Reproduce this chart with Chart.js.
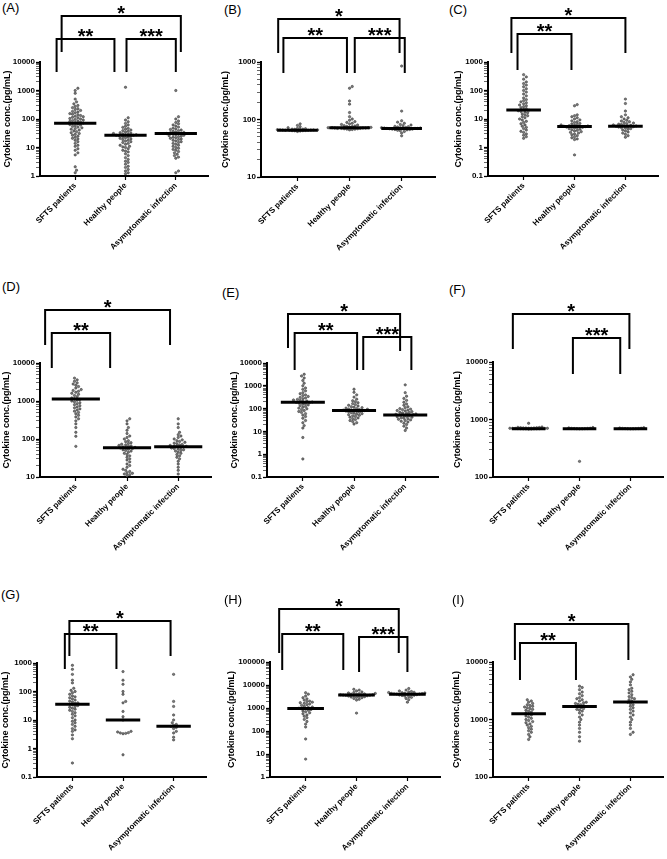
<!DOCTYPE html>
<html>
<head>
<meta charset="utf-8">
<script src="https://cdn.jsdelivr.net/npm/chart.js@4.4.1/dist/chart.umd.min.js"></script>
<style>
  html, body { margin: 0; padding: 0; background: #fff; overflow: hidden; }
  #page { position: relative; width: 667px; height: 859px; }
  canvas { position: absolute; }
  .plabel { position: absolute; font: 13px 'Liberation Sans', Arial, sans-serif; color: #000; line-height: 13px; }
</style>
</head>
<body>
<div id="page"></div>
<script>
/* Cytokine concentrations, 9 panels, three groups each (log scale) */

var groupNames = ["SFTS patients", "Healthy people", "Asymptomatic infection"];
var panelIds = ["A", "B", "C", "D", "E", "F", "G", "H", "I"];
var axisMin = [1, 10, 0.1, 10, 0.1, 100, 0.1, 1, 100];
var axisMax = [10000, 1000, 1000, 10000, 10000, 10000, 1000, 100000, 10000];

// medians (black bars)
var medianA = [71, 27, 31];
var medianB = [65, 72, 70];
var medianC = [20.8, 5.5, 5.6];
var medianD = [1130, 59, 63];
var medianE = [190, 82, 52];
var medianF = [690, 690, 690];
var medianG = [36, 10, 6];
var medianH = [950, 3700, 4000];
var medianI = [1255, 1690, 2010];

// individual values
var aSfts = [1.3, 1.6, 2.1, 5.5, 6.5, 8, 9, 11, 12, 14, 16, 18, 20, 21, 23, 25, 27, 29, 31, 33, 36, 38, 41, 44, 46, 49, 52, 55, 58, 61, 64, 67, 70, 72, 75, 78, 82, 85, 88, 92, 97, 100, 104, 110, 115, 120, 126, 132, 140, 148, 155, 165, 175, 185, 200, 215, 230, 250, 275, 300, 340, 400, 500, 800, 1000, 1200];
var aHealthy = [1.2, 1.3, 1.5, 1.7, 2.0, 2.2, 2.6, 3.0, 3.3, 3.8, 4.4, 5.2, 6, 7, 7.5, 8, 9, 10, 10.5, 11, 12, 13, 14, 15, 16, 17, 18, 19, 20, 21, 22, 23, 24, 25, 26, 27, 27, 28, 28, 29, 30, 31, 32, 33, 35, 37, 39, 41, 44, 47, 51, 56, 62, 70, 80, 92, 110, 1300];
var aAsym = [1.3, 1.5, 4.2, 4.6, 5.2, 5.8, 6.5, 7.2, 8, 8.6, 9.4, 10, 11, 12, 13, 14, 15, 16, 17, 18, 19, 20, 21, 22, 23, 24, 25, 26, 27, 28, 29, 30, 31, 32, 33, 34, 35, 37, 39, 41, 43, 45, 48, 52, 57, 62, 68, 75, 85, 100, 120, 1000];

var bSfts = [62, 63, 63.5, 64, 64, 64.5, 65, 65, 65, 65.5, 65.5, 66, 66, 66, 66.5, 67, 67, 67.5, 68, 68, 69, 70, 72, 75, 79, 84];
var bHealthy = [66, 67, 68, 68, 69, 69, 70, 70, 70, 71, 71, 71, 72, 72, 72, 73, 73, 74, 74, 75, 76, 77, 78, 80, 82, 84, 86, 89, 92, 97, 102, 112, 132, 185, 210, 350, 375];
var bAsym = [52, 58, 62, 64, 65, 66, 67, 67, 68, 68, 69, 69, 70, 70, 70, 71, 71, 72, 72, 73, 74, 75, 76, 78, 80, 82, 86, 90, 95, 140, 850];

var cSfts = [2.1, 2.4, 2.7, 3.0, 3.4, 3.7, 4.1, 4.6, 5.1, 5.6, 6.2, 6.8, 7.5, 8.3, 9.2, 10, 11, 12, 13, 14, 15, 16.5, 17.5, 18.5, 19.5, 20.5, 21.5, 23, 25, 27, 29, 31, 34, 37, 40, 44, 48, 55, 65, 75, 88, 100, 115, 135, 155, 175, 200, 250, 300, 360];
var cHealthy = [0.55, 1.9, 2.0, 2.2, 2.4, 2.6, 2.8, 3.0, 3.2, 3.4, 3.6, 3.8, 4.0, 4.2, 4.4, 4.6, 4.8, 5.0, 5.1, 5.2, 5.3, 5.4, 5.5, 5.6, 5.7, 5.8, 6.0, 6.2, 6.4, 6.7, 7.0, 7.5, 8, 8.6, 9.3, 10, 11, 12, 13, 14, 29, 32];
var cAsym = [2.3, 2.6, 2.9, 3.2, 3.5, 3.8, 4.1, 4.4, 4.6, 4.8, 5.0, 5.2, 5.4, 5.5, 5.6, 5.7, 5.8, 6.0, 6.2, 6.4, 6.6, 6.9, 7.2, 7.5, 8, 8.5, 9, 10, 11, 12, 14, 19, 35, 50];

var dSfts = [64, 118, 150, 200, 250, 300, 340, 380, 420, 460, 500, 540, 580, 620, 660, 700, 750, 800, 850, 900, 950, 1000, 1050, 1100, 1150, 1200, 1300, 1400, 1500, 1600, 1700, 1800, 1900, 2000, 2200, 2400, 2600, 2800, 3000, 3300, 3600, 4000];
var dHealthy = [11, 11.5, 12, 12.5, 13, 14, 15, 16, 18, 20, 22, 25, 28, 30, 33, 36, 39, 42, 45, 48, 50, 52, 54, 56, 58, 59, 60, 62, 64, 66, 68, 70, 73, 76, 80, 85, 90, 100, 110, 120, 140, 170, 200, 250, 300, 340];
var dAsym = [12, 15, 18, 22, 26, 30, 33, 36, 39, 42, 45, 48, 50, 52, 54, 56, 58, 60, 62, 63, 64, 66, 68, 70, 72, 75, 78, 82, 86, 90, 95, 100, 110, 120, 130, 150, 200, 250, 340];

var eSfts = [0.62, 5.4, 14, 18, 24, 30, 38, 45, 52, 60, 68, 75, 82, 90, 98, 105, 115, 125, 135, 145, 155, 165, 175, 185, 190, 195, 205, 215, 225, 240, 255, 270, 290, 310, 340, 370, 400, 450, 500, 600, 700, 800, 1000, 1300, 1700, 2200, 2700, 3200];
var eHealthy = [21, 24, 27, 30, 33, 36, 39, 42, 45, 48, 51, 54, 57, 60, 63, 66, 69, 72, 75, 78, 80, 82, 84, 86, 88, 91, 94, 97, 100, 105, 110, 115, 120, 130, 140, 150, 165, 180, 200, 220, 260, 320, 400, 520, 710];
var eAsym = [11, 14, 17, 20, 23, 26, 28, 30, 32, 34, 36, 38, 40, 42, 44, 46, 48, 50, 52, 54, 56, 58, 61, 64, 67, 70, 74, 78, 82, 86, 90, 95, 100, 110, 120, 140, 160, 190, 230, 280, 350, 500, 1100];

var fSfts = [680, 685, 688, 690, 690, 692, 694, 695, 696, 698, 700, 700, 702, 704, 705, 706, 708, 710, 712, 715, 718, 720, 725, 730, 740, 860];
var fHealthy = [187, 688, 690, 692, 694, 696, 698, 700, 705, 715, 725];
var fAsym = [688, 690, 692, 694, 696, 698, 700, 705, 710, 720];

var gSfts = [0.31, 2.2, 3, 4, 4.5, 5, 6, 7, 8, 9, 10, 12, 14, 16, 18, 20, 22, 24, 26, 28, 30, 32, 34, 36, 38, 40, 43, 46, 50, 55, 60, 65, 70, 80, 90, 100, 110, 130, 200, 250, 400, 600, 830];
var gHealthy = [0.6, 3.3, 3.4, 3.5, 3.6, 3.8, 4, 10, 13, 20, 40, 45, 80, 100, 180, 250, 500];
var gAsym = [2, 2.5, 3.5, 4, 5, 5.5, 6, 6.5, 7, 8, 10, 15, 30, 45, 400];

var hSfts = [6, 45, 150, 200, 260, 320, 380, 440, 500, 560, 620, 680, 740, 800, 860, 920, 950, 980, 1050, 1100, 1200, 1300, 1400, 1500, 1600, 1700, 1800, 1900, 2000, 2200, 2500, 2800, 3300, 4000, 4600];
var hHealthy = [600, 2200, 2400, 2600, 2800, 2900, 3000, 3100, 3200, 3300, 3400, 3500, 3550, 3600, 3650, 3700, 3750, 3800, 3900, 4000, 4100, 4200, 4300, 4500, 4700, 5000, 5500, 6000, 6500];
var hAsym = [1800, 2300, 2600, 2900, 3100, 3300, 3500, 3600, 3700, 3800, 3900, 3950, 4000, 4050, 4100, 4200, 4300, 4400, 4500, 4600, 4700, 4800, 5000, 5200, 5500, 6000, 7000];

var iSfts = [450, 500, 550, 600, 640, 680, 720, 760, 800, 840, 880, 920, 960, 1000, 1050, 1100, 1150, 1200, 1250, 1300, 1350, 1400, 1450, 1500, 1550, 1600, 1650, 1700, 1750, 1800, 1900, 2000, 2100, 2200];
var iHealthy = [420, 500, 600, 700, 800, 900, 1000, 1100, 1200, 1300, 1400, 1450, 1500, 1550, 1600, 1650, 1700, 1750, 1800, 1850, 1900, 1950, 2000, 2100, 2200, 2300, 2400, 2600, 2800, 3000, 3300, 3600, 3800];
var iAsym = [550, 600, 700, 800, 900, 1000, 1100, 1200, 1300, 1400, 1500, 1600, 1700, 1800, 1900, 2000, 2100, 2200, 2300, 2400, 2500, 2700, 2900, 3100, 3300, 3500, 4000, 4500, 5000, 5500, 6000];

var panelValues = [
  [aSfts, aHealthy, aAsym], [bSfts, bHealthy, bAsym], [cSfts, cHealthy, cAsym],
  [dSfts, dHealthy, dAsym], [eSfts, eHealthy, eAsym], [fSfts, fHealthy, fAsym],
  [gSfts, gHealthy, gAsym], [hSfts, hHealthy, hAsym], [iSfts, iHealthy, iAsym]
];
var panelMedians = [medianA, medianB, medianC, medianD, medianE, medianF, medianG, medianH, medianI];

// significance brackets: from/to in group units, top/legs in px relative to plot top
var panelBrackets = [
  [{ from: -0.27, to: 2.1, top: -46, leg1: -10, leg2: -10, label: "*" },
   { from: -0.37, to: 0.78, top: -23, leg1: 10, leg2: 10, label: "**" },
   { from: 1.02, to: 2.0, top: -23, leg1: 10, leg2: 10, label: "***" }],
  [{ from: -0.37, to: 1.96, top: -43, leg1: -9, leg2: -9, label: "*" },
   { from: -0.27, to: 0.95, top: -24, leg1: 11, leg2: 11, label: "**" },
   { from: 1.1, to: 2.06, top: -24, leg1: 11, leg2: 11, label: "***" }],
  [{ from: -0.24, to: 2.0, top: -44, leg1: -9, leg2: -9, label: "*" },
   { from: -0.12, to: 0.94, top: -28, leg1: 8, leg2: 8, label: "**" }],
  [{ from: -0.6, to: 1.84, top: -53, leg1: -18, leg2: -18, label: "*" },
   { from: -0.47, to: 0.67, top: -30, leg1: 5, leg2: 5, label: "**" }],
  [{ from: -0.29, to: 1.9, top: -49, leg1: -15, leg2: -12, label: "*" },
   { from: -0.16, to: 1.06, top: -30, leg1: 7, leg2: 7, label: "**" },
   { from: 1.18, to: 2.12, top: -26, leg1: 7, leg2: 7, label: "***" }],
  [{ from: -0.31, to: 1.98, top: -48, leg1: -13, leg2: -13, label: "*" },
   { from: 0.87, to: 1.8, top: -24, leg1: 12, leg2: 12, label: "***" }],
  [{ from: -0.06, to: 1.94, top: -42, leg1: -7, leg2: -7, label: "*" },
   { from: -0.15, to: 0.87, top: -29, leg1: 6, leg2: 6, label: "**" }],
  [{ from: -0.52, to: 1.83, top: -53, leg1: -9, leg2: -9, label: "*" },
   { from: -0.46, to: 0.74, top: -28, leg1: 8, leg2: 8, label: "**" },
   { from: 1.05, to: 2.0, top: -25, leg1: 10, leg2: 10, label: "***" }],
  [{ from: -0.27, to: 1.96, top: -38, leg1: -2, leg2: -2, label: "*" },
   { from: -0.17, to: 0.93, top: -19, leg1: 18, leg2: 18, label: "**" }]
];

// page layout of each panel (px)
var panelLayout = [
  { rowTop: 0,   titleX: 7,   axisX: 40,  top: 62,  bottom: 176, right: 210, medW: 0.42, lx: 2,   ly: 1 },
  { rowTop: 0,   titleX: 225, axisX: 261, top: 62,  bottom: 177, right: 437, medW: 0.39, lx: 224, ly: 3 },
  { rowTop: 0,   titleX: 458, axisX: 488, top: 62,  bottom: 176, right: 660, medW: 0.34, lx: 449, ly: 3 },
  { rowTop: 280, titleX: 6,   axisX: 40,  top: 363, bottom: 477, right: 213, medW: 0.47, lx: 2,   ly: 280 },
  { rowTop: 280, titleX: 234, axisX: 267, top: 363, bottom: 477, right: 440, medW: 0.43, lx: 222, ly: 286 },
  { rowTop: 280, titleX: 457, axisX: 493, top: 362, bottom: 477, right: 665, medW: 0.33, lx: 449, ly: 283 },
  { rowTop: 570, titleX: 5,   axisX: 37,  top: 663, bottom: 777, right: 208, medW: 0.34, lx: 1,   ly: 588 },
  { rowTop: 570, titleX: 231, axisX: 270, top: 662, bottom: 777, right: 442, medW: 0.36, lx: 224, ly: 593 },
  { rowTop: 570, titleX: 456, axisX: 493, top: 662, bottom: 777, right: 665, medW: 0.34, lx: 452, ly: 593 }
];

var X_MIN = -0.7, X_MAX = 2.65;
var FONT = "'Liberation Sans', Arial, sans-serif";
Chart.defaults.font.family = FONT;
Chart.defaults.color = "#000";

// simple beeswarm: horizontal offsets (group units); spread is capped at maxHalf px
function swarmOffsets(values, lo, hi, plotH, pxPerUnit, maxHalf) {
  var d = 2.7;
  var step = d * 0.5;
  var span = Math.log10(hi) - Math.log10(lo);
  var pts = values.map(function (v, k) {
    return { k: k, py: (Math.log10(v) - Math.log10(lo)) / span * plotH, px: 0 };
  });
  var order = pts.slice().sort(function (a, b) { return a.py - b.py; });
  var placed = [];
  order.forEach(function (p) {
    var best = 0, bestHits = Infinity;
    for (var j = 0; j < 400; j++) {
      var off = (j % 2 ? 1 : -1) * Math.ceil(j / 2) * step;
      if (Math.abs(off) > maxHalf) break;
      var hits = 0;
      placed.forEach(function (q) {
        var dy = q.py - p.py, dx = q.px - off;
        if (dx * dx + dy * dy < d * d) hits++;
      });
      if (hits < bestHits) { best = off; bestHits = hits; }
      if (hits === 0) break;
    }
    p.px = best;
    placed.push(p);
  });
  var out = [];
  pts.forEach(function (p) { out[p.k] = p.px / pxPerUnit; });
  return out;
}

var bracketPlugin = {
  id: "brackets",
  afterDraw: function (chart) {
    var items = chart.$brackets || [];
    var ctx = chart.ctx, area = chart.chartArea, sx = chart.scales.x;
    ctx.save();
    ctx.strokeStyle = "#000";
    ctx.fillStyle = "#000";
    ctx.lineWidth = 2;
    ctx.lineJoin = "miter";
    items.forEach(function (b) {
      var x1 = sx.getPixelForValue(b.from), x2 = sx.getPixelForValue(b.to);
      var yt = area.top + b.top;
      ctx.beginPath();
      ctx.moveTo(x1, area.top + b.leg1);
      ctx.lineTo(x1, yt);
      ctx.lineTo(x2, yt);
      ctx.lineTo(x2, area.top + b.leg2);
      ctx.stroke();

      ctx.font = "bold 20px " + FONT;
      ctx.textAlign = "center";
      ctx.textBaseline = "alphabetic";
      var m = ctx.measureText(b.label);
      var cy = yt - 6;
      var base = cy - (m.actualBoundingBoxDescent - m.actualBoundingBoxAscent) / 2;
      ctx.fillText(b.label, (x1 + x2) / 2, base);
    });
    ctx.restore();
  }
};

function isDecade(v) {
  var l = Math.log10(v);
  return Math.abs(l - Math.round(l)) < 1e-9;
}

function makePanel(idx) {
  var p = panelLayout[idx];
  var page = document.getElementById("page");
  var lo = axisMin[idx], hi = axisMax[idx];

  var lab = document.createElement("div");
  lab.className = "plabel";
  lab.style.left = p.lx + "px";
  lab.style.top = p.ly + "px";
  lab.textContent = "(" + panelIds[idx] + ")";
  page.appendChild(lab);

  var left = p.titleX - 5;
  var xAxisH = p.rowTop === 570 ? 82 : 95;
  var w = p.right - left + 3;
  var h = p.bottom - p.rowTop + xAxisH;
  var canvas = document.createElement("canvas");
  canvas.width = w; canvas.height = h;
  canvas.style.left = left + "px";
  canvas.style.top = p.rowTop + "px";
  canvas.style.width = w + "px";
  canvas.style.height = h + "px";
  page.appendChild(canvas);

  var plotW = p.right - p.axisX, plotH = p.bottom - p.top;
  var pxPerUnit = plotW / (X_MAX - X_MIN);
  var maxHalf = p.medW * pxPerUnit + 2;

  var datasets = [];
  // medians first so they sit on top of the dots
  panelMedians[idx].forEach(function (med, g) {
    datasets.push({
      type: "line",
      data: [{ x: g - p.medW, y: med }, { x: g + p.medW, y: med }],
      borderColor: "#000",
      borderWidth: 3,
      pointRadius: 0,
      showLine: true
    });
  });
  panelValues[idx].forEach(function (vals, g) {
    var offs = swarmOffsets(vals, lo, hi, plotH, pxPerUnit, maxHalf);
    datasets.push({
      type: "scatter",
      data: vals.map(function (v, k) { return { x: g + offs[k], y: v }; }),
      pointRadius: 1.2,
      pointBackgroundColor: "#7a7a7a",
      pointBorderColor: "#333",
      pointBorderWidth: 0.5
    });
  });

  var chart = new Chart(canvas, {
    type: "scatter",
    data: { datasets: datasets },
    options: {
      responsive: false,
      animation: false,
      devicePixelRatio: 1,
      events: [],
      layout: { padding: { top: p.top - p.rowTop, left: 0, right: 3, bottom: 0 } },
      plugins: { legend: { display: false }, tooltip: { enabled: false } },
      scales: {
        x: {
          type: "linear",
          min: X_MIN,
          max: X_MAX,
          afterBuildTicks: function (s) {
            s.ticks = [0, 1, 2].map(function (v) { return { value: v }; });
          },
          afterFit: function (s) { s.height = xAxisH; },
          border: { display: true, color: "#000", width: 2 },
          grid: { display: true, drawOnChartArea: false, drawTicks: true, tickLength: 4, color: "#000", tickWidth: 1.2 },
          ticks: {
            autoSkip: false,
            maxRotation: 45,
            minRotation: 45,
            padding: 1,
            color: "#000",
            font: { size: 8, weight: "bold" },
            callback: function (v) { return groupNames[v]; }
          }
        },
        y: {
          type: "logarithmic",
          min: lo,
          max: hi,
          afterBuildTicks: function (s) {
            var t = [];
            for (var e = Math.round(Math.log10(lo)); e <= Math.round(Math.log10(hi)); e++) {
              for (var m = 1; m <= 9; m++) {
                var v = Number((m * Math.pow(10, e)).toPrecision(6));
                if (v <= hi) t.push({ value: v, major: m === 1 });
              }
            }
            s.ticks = t;
          },
          afterFit: function (s) { s.width = p.axisX - left; },
          border: { display: true, color: "#000", width: 2 },
          grid: {
            display: true,
            drawOnChartArea: false,
            drawTicks: true,
            tickLength: 4,
            color: "#000",
            tickWidth: function (c) { return c.tick && isDecade(c.tick.value) ? 1.3 : 0.6; }
          },
          ticks: {
            autoSkip: false,
            padding: 1,
            color: "#000",
            font: { size: 8, weight: "bold" },
            callback: function (v) { return isDecade(v) ? String(Number(v.toPrecision(6))) : ""; }
          },
          title: {
            display: true,
            text: "Cytokine conc.(pg/mL)",
            color: "#000",
            font: { size: 9, weight: "bold" },
            padding: { top: 0, bottom: 0 }
          }
        }
      }
    },
    plugins: [bracketPlugin]
  });
  chart.$brackets = panelBrackets[idx];
  chart.draw();
}

for (var i = 0; i < 9; i++) makePanel(i);
</script>
</body>
</html>
